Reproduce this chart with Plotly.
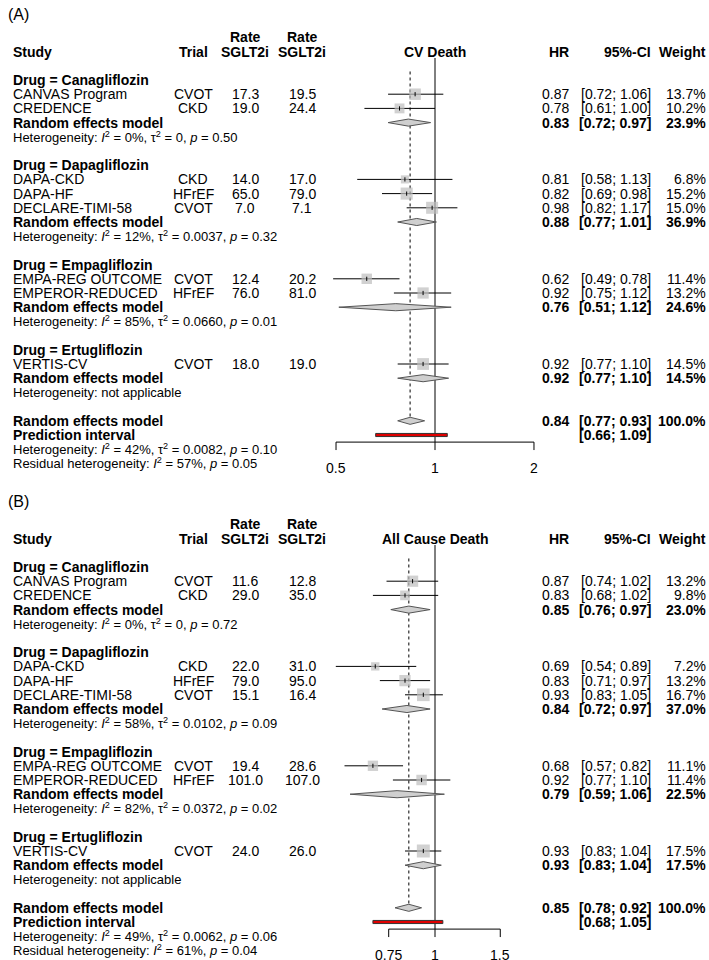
import math
import plotly.graph_objects as go

W, H = 709, 960
FONT = "Liberation Sans, Arial, Helvetica, sans-serif"

# ---------------- data ----------------
studies = ["CANVAS Program", "CREDENCE", "DAPA-CKD", "DAPA-HF", "DECLARE-TIMI-58",
           "EMPA-REG OUTCOME", "EMPEROR-REDUCED", "VERTIS-CV"]
study_drug = ["Canagliflozin", "Canagliflozin", "Dapagliflozin", "Dapagliflozin",
              "Dapagliflozin", "Empagliflozin", "Empagliflozin", "Ertugliflozin"]
trial_type = ["CVOT", "CKD", "CKD", "HFrEF", "CVOT", "CVOT", "HFrEF", "CVOT"]
drug_groups = ["Canagliflozin", "Dapagliflozin", "Empagliflozin", "Ertugliflozin"]

# Panel A: CV death
A_title = "CV Death"
A_rate1 = [17.3, 19.0, 14.0, 65.0, 7.0, 12.4, 76.0, 18.0]
A_rate2 = [19.5, 24.4, 17.0, 79.0, 7.1, 20.2, 81.0, 19.0]
A_hr = [0.87, 0.78, 0.81, 0.82, 0.98, 0.62, 0.92, 0.92]
A_lo = [0.72, 0.61, 0.58, 0.69, 0.82, 0.49, 0.75, 0.77]
A_hi = [1.06, 1.00, 1.13, 0.98, 1.17, 0.78, 1.12, 1.10]
A_w = [13.7, 10.2, 6.8, 15.2, 15.0, 11.4, 13.2, 14.5]
A_sub_hr = [0.83, 0.88, 0.76, 0.92]
A_sub_lo = [0.72, 0.77, 0.51, 0.77]
A_sub_hi = [0.97, 1.01, 1.12, 1.10]
A_sub_w = [23.9, 36.9, 24.6, 14.5]
A_sub_i2 = ["0", "12", "85", None]
A_sub_tau2 = ["0", "0.0037", "0.0660", None]
A_sub_p = ["0.50", "0.32", "0.01", None]
A_all = [0.84, 0.77, 0.93, 100.0]
A_pi = [0.66, 1.09]
A_het = ["42", "0.0082", "0.10"]
A_resid = ["57", "0.05"]
A_ticks = [0.5, 1, 2]
A_ticklabels = ["0.5", "1", "2"]

# Panel B: all cause death
B_title = "All Cause Death"
B_rate1 = [11.6, 29.0, 22.0, 79.0, 15.1, 19.4, 101.0, 24.0]
B_rate2 = [12.8, 35.0, 31.0, 95.0, 16.4, 28.6, 107.0, 26.0]
B_hr = [0.87, 0.83, 0.69, 0.83, 0.93, 0.68, 0.92, 0.93]
B_lo = [0.74, 0.68, 0.54, 0.71, 0.83, 0.57, 0.77, 0.83]
B_hi = [1.02, 1.02, 0.89, 0.97, 1.05, 0.82, 1.10, 1.04]
B_w = [13.2, 9.8, 7.2, 13.2, 16.7, 11.1, 11.4, 17.5]
B_sub_hr = [0.85, 0.84, 0.79, 0.93]
B_sub_lo = [0.76, 0.72, 0.59, 0.83]
B_sub_hi = [0.97, 0.97, 1.06, 1.04]
B_sub_w = [23.0, 37.0, 22.5, 17.5]
B_sub_i2 = ["0", "58", "82", None]
B_sub_tau2 = ["0", "0.0102", "0.0372", None]
B_sub_p = ["0.72", "0.09", "0.02", None]
B_all = [0.85, 0.78, 0.92, 100.0]
B_pi = [0.68, 1.05]
B_het = ["49", "0.0062", "0.06"]
B_resid = ["61", "0.04"]
B_ticks = [0.75, 1, 1.5]
B_ticklabels = ["0.75", "1", "1.5"]

# ---------------- layout constants (pixels) ----------------
X_STUDY, X_TRIAL, X_R1, X_R2, X_PLOT = 11, 193, 245, 302, 435
X_HR, X_CI, X_W = 571, 653, 708
SQ_K = 3.1
D_H = 0.25  # diamond half-height (rows)

fig = go.Figure()
annotations = []


def ann(text, px, row, yref, anchor="left", size=14, xref="paper", x=None):
    annotations.append(dict(
        text=text, x=(px / W) if x is None else x, xref=xref, y=row, yref=yref,
        xanchor=anchor, yanchor="middle", showarrow=False,
        font=dict(family=FONT, size=size, color="black")))


def het_text(i2, tau2, p):
    return (f"Heterogeneity: <i>I</i><sup>2</sup> = {i2}%, "
            f"\u03c4<sup>2</sup> = {tau2}, <i>p</i> = {p}")


def panel(k, label, title, rate1, rate2, hr, lo, hi, w, shr, slo, shi, sw,
          si2, stau, sp, allv, pi, het, resid, ticks, ticklabels):
    xa = "x" if k == 0 else "x2"
    ya = "y" if k == 0 else "y2"

    ann(label, 6, -4.58, ya, size=16)
    ann("<b>Rate</b>", X_R1, -3, ya, "center")
    ann("<b>Rate</b>", X_R2, -3, ya, "center")
    ann("<b>Study</b>", X_STUDY, -2, ya)
    ann("<b>Trial</b>", X_TRIAL, -2, ya, "center")
    ann("<b>SGLT2i</b>", X_R1, -2, ya, "center")
    ann("<b>SGLT2i</b>", X_R2, -2, ya, "center")
    ann(f"<b>{title}</b>", X_PLOT, -2, ya, "center")
    ann("<b>HR</b>", X_HR, -2, ya, "right")
    ann("<b>95%-CI</b>", X_CI, -2, ya, "right")
    ann("<b>Weight</b>", X_W, -2, ya, "right")

    ci_x, ci_y, sq_x, sq_y, sq_s = [], [], [], [], []
    dm_x, dm_y = [], []
    row = 0
    for g, drug in enumerate(drug_groups):
        ann(f"<b>Drug = {drug}</b>", X_STUDY, row, ya)
        row += 1
        for i, s in enumerate(studies):
            if study_drug[i] != drug:
                continue
            ann(s, X_STUDY, row, ya)
            ann(trial_type[i], X_TRIAL, row, ya, "center")
            ann(f"{rate1[i]:.1f}", X_R1, row, ya, "center")
            ann(f"{rate2[i]:.1f}", X_R2, row, ya, "center")
            ann(f"{hr[i]:.2f}", X_HR, row, ya, "right")
            ann(f"[{lo[i]:.2f}; {hi[i]:.2f}]", X_CI, row, ya, "right")
            ann(f"{w[i]:.1f}%", X_W, row, ya, "right")
            ci_x += [lo[i], hi[i], None]
            ci_y += [row, row, None]
            sq_x.append(hr[i]); sq_y.append(row); sq_s.append(SQ_K * w[i] ** 0.5)
            row += 1
        ann("<b>Random effects model</b>", X_STUDY, row, ya)
        ann(f"<b>{shr[g]:.2f}</b>", X_HR, row, ya, "right")
        ann(f"<b>[{slo[g]:.2f}; {shi[g]:.2f}]</b>", X_CI, row, ya, "right")
        ann(f"<b>{sw[g]:.1f}%</b>", X_W, row, ya, "right")
        dm_x += [slo[g], shr[g], shi[g], shr[g], slo[g], None]
        dm_y += [row, row - D_H, row, row + D_H, row, None]
        row += 1
        if si2[g] is None:
            ann("Heterogeneity: not applicable", X_STUDY, row, ya, size=13)
        else:
            ann(het_text(si2[g], stau[g], sp[g]), X_STUDY, row, ya, size=13)
        row += 2

    # overall
    ro = row
    ann("<b>Random effects model</b>", X_STUDY, ro, ya)
    ann(f"<b>{allv[0]:.2f}</b>", X_HR, ro, ya, "right")
    ann(f"<b>[{allv[1]:.2f}; {allv[2]:.2f}]</b>", X_CI, ro, ya, "right")
    ann(f"<b>{allv[3]:.1f}%</b>", X_W, ro, ya, "right")
    dm_x += [allv[1], allv[0], allv[2], allv[0], allv[1], None]
    dm_y += [ro, ro - D_H, ro, ro + D_H, ro, None]
    ann("<b>Prediction interval</b>", X_STUDY, ro + 1, ya)
    ann(f"<b>[{pi[0]:.2f}; {pi[1]:.2f}]</b>", X_CI, ro + 1, ya, "right")
    ann(het_text(*het), X_STUDY, ro + 2, ya, size=13)
    ann(f"Residual heterogeneity: <i>I</i><sup>2</sup> = {resid[0]}%, <i>p</i> = {resid[1]}",
        X_STUDY, ro + 3, ya, size=13)

    line = dict(color="black", width=1)
    # reference line at 1
    ax_row = ro + 1.5
    fig.add_trace(go.Scatter(x=[1, 1], y=[-1.55, ax_row], mode="lines", line=line,
                             xaxis=xa, yaxis=ya, hoverinfo="skip"))
    # dotted overall line
    fig.add_trace(go.Scatter(x=[allv[0], allv[0]], y=[-0.6, ro - D_H], mode="lines",
                             line=dict(color="black", width=1, dash="dot"),
                             xaxis=xa, yaxis=ya, hoverinfo="skip"))
    # CI lines
    fig.add_trace(go.Scatter(x=ci_x, y=ci_y, mode="lines", line=line,
                             xaxis=xa, yaxis=ya, hoverinfo="skip"))
    # squares
    fig.add_trace(go.Scatter(x=sq_x, y=sq_y, mode="markers",
                             marker=dict(symbol="square", size=sq_s, color="#BEBEBE",
                                         line=dict(width=0)),
                             xaxis=xa, yaxis=ya, hoverinfo="skip"))
    fig.add_trace(go.Scatter(x=sq_x, y=sq_y, mode="markers",
                             marker=dict(symbol="line-ns", size=3,
                                         line=dict(width=1, color="black")),
                             xaxis=xa, yaxis=ya, hoverinfo="skip"))
    # diamonds
    fig.add_trace(go.Scatter(x=dm_x, y=dm_y, mode="lines", fill="toself",
                             fillcolor="#CFCFCF", line=dict(color="#555555", width=1),
                             xaxis=xa, yaxis=ya, hoverinfo="skip"))
    # prediction interval
    pr = ro + 1
    fig.add_trace(go.Scatter(x=[pi[0], pi[1], pi[1], pi[0], pi[0]],
                             y=[pr - 0.11, pr - 0.11, pr + 0.11, pr + 0.11, pr - 0.11],
                             mode="lines", fill="toself", fillcolor="#E00000",
                             line=dict(color="#333333", width=1),
                             xaxis=xa, yaxis=ya, hoverinfo="skip"))
    # axis
    axx = [ticks[0], ticks[-1], None]
    axy = [ax_row, ax_row, None]
    for t in ticks:
        axx += [t, t, None]
        axy += [ax_row, ax_row + 0.56, None]
    fig.add_trace(go.Scatter(x=axx, y=axy, mode="lines", line=line,
                             xaxis=xa, yaxis=ya, hoverinfo="skip"))
    for t, tl in zip(ticks, ticklabels):
        ann(tl, 0, ro + 3.3, ya, "center", xref=xa, x=math.log10(t))


panel(0, "(A)", A_title, A_rate1, A_rate2, A_hr, A_lo, A_hi, A_w,
      A_sub_hr, A_sub_lo, A_sub_hi, A_sub_w, A_sub_i2, A_sub_tau2, A_sub_p,
      A_all, A_pi, A_het, A_resid, A_ticks, A_ticklabels)
panel(1, "(B)", B_title, B_rate1, B_rate2, B_hr, B_lo, B_hi, B_w,
      B_sub_hr, B_sub_lo, B_sub_hi, B_sub_w, B_sub_i2, B_sub_tau2, B_sub_p,
      B_all, B_pi, B_het, B_resid, B_ticks, B_ticklabels)

ROW = 14.2
fig.update_layout(
    width=W, height=H, margin=dict(l=0, r=0, t=0, b=0),
    paper_bgcolor="white", plot_bgcolor="white", showlegend=False,
    annotations=annotations,
    xaxis=dict(domain=[0, 1], type="log", range=[-435 / 328.8, 274 / 328.8],
               visible=False, anchor="y"),
    yaxis=dict(domain=[1 - 480 / H, 1], range=[(480 - 80) / ROW, -80 / ROW],
               visible=False, anchor="x"),
    xaxis2=dict(domain=[0, 1], type="log", range=[-435 / 370.7, 274 / 370.7],
                visible=False, anchor="y2"),
    yaxis2=dict(domain=[0, 1 - 487 / H], range=[(960 - 567) / ROW, (487 - 567) / ROW],
                visible=False, anchor="x2"),
)

fig.write_html(
    "out.html",
    config={"displayModeBar": False},
    post_script="document.body.style.margin='0';document.body.style.overflow='hidden';",
)
